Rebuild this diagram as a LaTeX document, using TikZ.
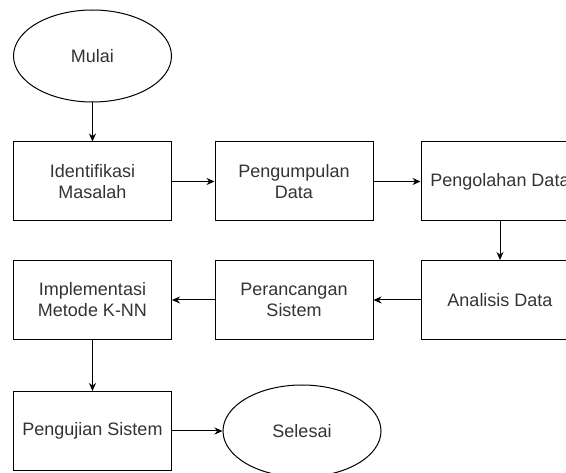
\documentclass[tikz,border=0pt]{standalone}
\usepackage{fontspec}
\setmainfont{Liberation Sans}
\usetikzlibrary{shapes.geometric,arrows.meta}
\begin{document}
\begin{tikzpicture}[x=1pt,y=-1pt,
  box/.style={draw=black,line width=1pt,minimum width=158pt,minimum height=79pt,align=center,inner sep=0pt,text=black!80,font=\fontsize{18pt}{21pt}\selectfont},
  oval/.style={draw=black,line width=1pt,ellipse,minimum width=158pt,minimum height=92pt,inner sep=0pt,text=black!80,font=\fontsize{18pt}{21pt}\selectfont},
  arr/.style={draw=black,line width=1pt,-{Stealth[length=8pt,width=7pt]}}]
\useasboundingbox (0,0) rectangle (566,473);
\clip (0,0) rectangle (566,473);
\node[oval] (mulai) at (92.5,56) {Mulai};
\node[box] (ident) at (92.5,181.5) {Identifikasi\\Masalah};
\node[box] (kumpul) at (294,181.5) {Pengumpulan\\Data};
\node[box] (olah) at (500,181.5) {Pengolahan Data};
\node[box] (anal) at (500,300) {Analisis Data};
\node[box] (ranc) at (294,300) {Perancangan\\Sistem};
\node[box] (impl) at (92.5,300) {Implementasi\\Metode K-NN};
\node[box] (uji) at (92.5,431) {Pengujian Sistem};
\node[oval] (selesai) at (302,431) {Selesai};
\draw[arr] (mulai) -- (ident);
\draw[arr] (ident) -- (kumpul);
\draw[arr] (kumpul) -- (olah);
\draw[arr] (olah) -- (anal);
\draw[arr] (anal) -- (ranc);
\draw[arr] (ranc) -- (impl);
\draw[arr] (impl) -- (uji);
\draw[arr] (uji) -- (selesai);
\end{tikzpicture}
\end{document}
